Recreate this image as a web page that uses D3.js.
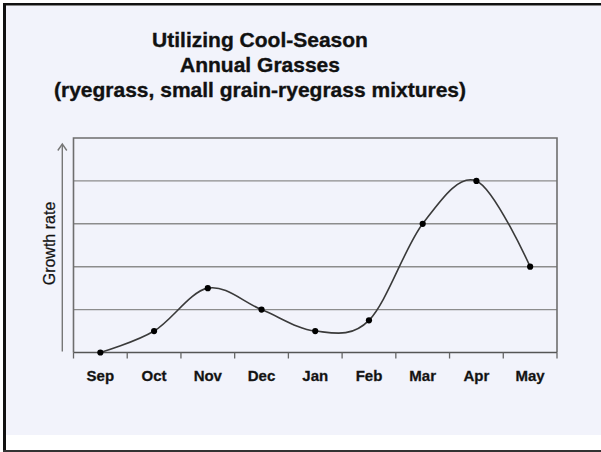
<!DOCTYPE html>
<html>
<head>
<meta charset="utf-8">
<script src="https://cdn.jsdelivr.net/npm/d3@7"></script>
<style>
  html, body { margin: 0; padding: 0; background: #ffffff; }
  svg { display: block; }
  text { font-family: "Liberation Sans", Arial, Helvetica, sans-serif; fill: #111; }
</style>
</head>
<body>
<script>
// ---- data ----
const months = ["Sep", "Oct", "Nov", "Dec", "Jan", "Feb", "Mar", "Apr", "May"];
const growth = [0, 0.5, 1.5, 1.0, 0.5, 0.75, 3.0, 4.0, 2.0];
const gridValues = [1, 2, 3, 4];
const titleLines = ["Utilizing Cool-Season", "Annual Grasses", "(ryegrass, small grain-ryegrass mixtures)"];
const yLabel = "Growth rate";

// ---- layout ----
const W = 601, H = 452;
const plot = { left: 73.5, right: 557, top: 138, bottom: 352.5 };

const svg = d3.select("body").append("svg").attr("width", W).attr("height", H);

// background / frame
svg.append("rect").attr("x", 0).attr("y", 0).attr("width", W).attr("height", H).attr("fill", "#ffffff");
svg.append("rect").attr("x", 6).attr("y", 6).attr("width", W - 6).attr("height", 429).attr("fill", "#f2f3fb");
svg.append("rect").attr("x", 3).attr("y", 3).attr("width", W - 3).attr("height", 2.5).attr("fill", "#111");
svg.append("rect").attr("x", 3).attr("y", 3).attr("width", 3).attr("height", H - 3).attr("fill", "#111");
svg.append("rect").attr("x", 3).attr("y", 450).attr("width", W - 3).attr("height", 2).attr("fill", "#333");

// title
svg.append("g").selectAll("text").data(titleLines).join("text")
  .attr("x", 260)
  .attr("y", (d, i) => 46.7 + i * 24.9)
  .attr("text-anchor", "middle")
  .attr("font-size", 21)
  .attr("font-weight", "bold")
  .attr("stroke", "#111").attr("stroke-width", 0.35)
  .text(d => d);

// scales
const x = d3.scaleBand().domain(months).range([plot.left, plot.right]).padding(0);
const y = d3.scaleLinear().domain([0, 5]).range([plot.bottom, plot.top]);

// gridlines
svg.append("g").selectAll("line").data(gridValues).join("line")
  .attr("x1", plot.left).attr("x2", plot.right)
  .attr("y1", d => y(d)).attr("y2", d => y(d))
  .attr("stroke", "#8c8c8c").attr("stroke-width", 1.4);

// plot border (top, right, left)
svg.append("path")
  .attr("d", `M${plot.left},${plot.bottom} V${y(5)} H${plot.right} V${plot.bottom}`)
  .attr("fill", "none").attr("stroke", "#6e6e6e").attr("stroke-width", 1.6);

// x axis line and ticks at band edges
const tickPos = months.map(m => x(m)).concat([plot.right]);
svg.append("line")
  .attr("x1", plot.left).attr("x2", plot.right)
  .attr("y1", plot.bottom).attr("y2", plot.bottom)
  .attr("stroke", "#555").attr("stroke-width", 1.6);
svg.append("g").selectAll("line").data(tickPos).join("line")
  .attr("x1", d => d).attr("x2", d => d)
  .attr("y1", plot.bottom).attr("y2", plot.bottom + 6)
  .attr("stroke", "#666").attr("stroke-width", 1.3);

// x labels
svg.append("g").selectAll("text").data(months).join("text")
  .attr("x", d => x(d) + x.bandwidth() / 2)
  .attr("y", 380.5)
  .attr("text-anchor", "middle")
  .attr("font-size", 15)
  .attr("font-weight", "bold")
  .attr("stroke", "#222").attr("stroke-width", 0.3)
  .text(d => d);

// y arrow
const ax = 62.3;
svg.append("line").attr("x1", ax).attr("x2", ax).attr("y1", 351.5).attr("y2", 144.5)
  .attr("stroke", "#777").attr("stroke-width", 1.4);
svg.append("path").attr("d", `M${ax - 4.5},${150.5} L${ax},${144} L${ax + 4.5},${150.5}`)
  .attr("fill", "none").attr("stroke", "#777").attr("stroke-width", 1.4);

// y label
svg.append("text")
  .attr("transform", `translate(55,243.5) rotate(-90)`)
  .attr("text-anchor", "middle")
  .attr("font-size", 16)
  .attr("stroke", "#222").attr("stroke-width", 0.25)
  .text(yLabel);

// curve
const pts = months.map((m, i) => [x(m) + x.bandwidth() / 2, y(growth[i])]);
svg.append("path")
  .attr("d", d3.line().curve(d3.curveCatmullRom.alpha(0))(pts))
  .attr("fill", "none").attr("stroke", "#3a3a3a").attr("stroke-width", 1.6);

// markers
svg.append("g").selectAll("circle").data(pts).join("circle")
  .attr("cx", d => d[0]).attr("cy", d => d[1])
  .attr("r", 3.1)
  .attr("fill", "#000");
</script>
</body>
</html>
